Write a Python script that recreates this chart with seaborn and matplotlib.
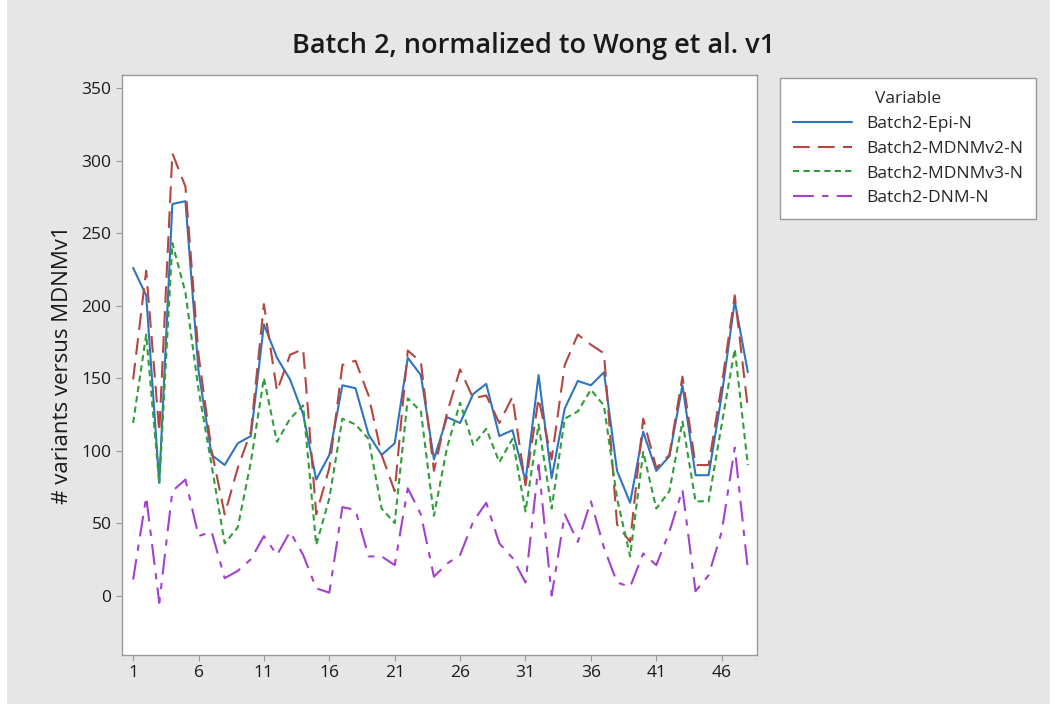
import numpy as np
import pandas as pd
import matplotlib
matplotlib.use("Agg")
import matplotlib.pyplot as plt
import matplotlib.patches as mpatches
import seaborn as sns

index = list(range(1, 49))
epi = [226, 207, 78, 270, 272, 155, 97, 90, 105, 110, 187, 164, 149, 125, 80, 97,
       145, 143, 111, 97, 105, 164, 152, 94, 123, 119, 139, 146, 110, 114, 79, 152,
       81, 129, 148, 145, 154, 86, 64, 113, 86, 96, 145, 83, 83, 138, 203, 154]
mdnmv2 = [149, 224, 113, 305, 282, 166, 100, 56, 88, 113, 201, 141, 166, 170, 56, 88,
          159, 162, 138, 97, 72, 169, 161, 86, 126, 156, 136, 138, 119, 137, 76, 136,
          94, 159, 180, 173, 167, 49, 37, 122, 88, 97, 151, 90, 90, 145, 207, 129]
mdnmv3 = [119, 180, 77, 243, 209, 142, 90, 36, 47, 92, 150, 106, 122, 131, 35, 67,
          122, 118, 108, 60, 50, 136, 127, 55, 102, 133, 104, 115, 92, 108, 58, 118,
          60, 122, 127, 142, 131, 67, 27, 99, 60, 72, 120, 65, 65, 118, 170, 90]
dnm = [11, 68, -5, 72, 80, 41, 44, 12, 17, 25, 41, 28, 44, 28, 5, 2,
       61, 59, 27, 27, 21, 74, 56, 13, 22, 28, 51, 64, 36, 26, 9, 90,
       0, 56, 37, 65, 33, 9, 6, 29, 21, 44, 73, 3, 14, 44, 102, 18]

series_names = ["Batch2-Epi-N", "Batch2-MDNMv2-N", "Batch2-MDNMv3-N", "Batch2-DNM-N"]
xtick_values = [1, 6, 11, 16, 21, 26, 31, 36, 41, 46]
ytick_values = [0, 50, 100, 150, 200, 250, 300, 350]

df = pd.concat([
    pd.DataFrame({"Index": index, "Value": vals, "Variable": name})
    for name, vals in zip(series_names, [epi, mdnmv2, mdnmv3, dnm])
])

sns.set_theme(style="white")
plt.rcParams["font.family"] = ["Open Sans", "DejaVu Sans"]

palette = {
    "Batch2-Epi-N": "#2f74c0",
    "Batch2-MDNMv2-N": "#b5453f",
    "Batch2-MDNMv3-N": "#2f9e3a",
    "Batch2-DNM-N": "#a53fd0",
}
dashes = {
    "Batch2-Epi-N": "",
    "Batch2-MDNMv2-N": (8, 4),
    "Batch2-MDNMv3-N": (3, 2),
    "Batch2-DNM-N": (10, 4, 3, 4),
}

fig = plt.figure(figsize=(10.55, 7.04), dpi=100)
fig.patch.set_facecolor("white")
fig.patches.append(mpatches.Rectangle((7 / 1055, 0), 1 - 12 / 1055, 1,
                                      transform=fig.transFigure, facecolor="#e6e6e6",
                                      edgecolor="none", zorder=-10))
ax = fig.add_axes([122 / 1055, 1 - 655 / 704, (757 - 122) / 1055, (655 - 75) / 704])
ax.set_facecolor("white")

sns.lineplot(data=df, x="Index", y="Value", hue="Variable", style="Variable",
             palette=palette, dashes=dashes, linewidth=1.5, ax=ax, legend=True)

ax.set_xlim(0.15, 48.7)
ax.set_ylim(-41, 359)
ax.set_xticks(xtick_values)
ax.set_yticks(ytick_values)
ax.tick_params(axis="both", which="both", direction="out", length=4, width=0.8,
               color="#999999", labelsize=12.5, labelcolor="#1a1a1a")
ax.tick_params(bottom=True, left=True)
for s in ax.spines.values():
    s.set_color("#999999")
    s.set_linewidth(1.0)
ax.set_xlabel("")
ax.set_ylabel("# variants versus MDNMv1", fontsize=16, color="#1a1a1a", labelpad=6)

fig.text(534 / 1055, 1 - 46 / 704, "Batch 2, normalized to Wong et al. v1",
         ha="center", va="center", fontsize=19.5, color="#1a1a1a", fontweight="semibold")

handles, labels = ax.get_legend_handles_labels()
ax.get_legend().remove()
leg = fig.legend(handles, labels, title="Variable", loc="upper left",
                 bbox_to_anchor=(780 / 1055, 1 - 78 / 704), borderaxespad=0,
                 frameon=True, fontsize=12.5, title_fontsize=12.5, handlelength=3.4,
                 borderpad=0.75, labelspacing=0.5, fancybox=False)
leg.get_frame().set_edgecolor("#999999")
leg.get_frame().set_facecolor("white")
leg.get_frame().set_alpha(1)

fig.savefig("out.png", dpi=100, facecolor=fig.get_facecolor())
